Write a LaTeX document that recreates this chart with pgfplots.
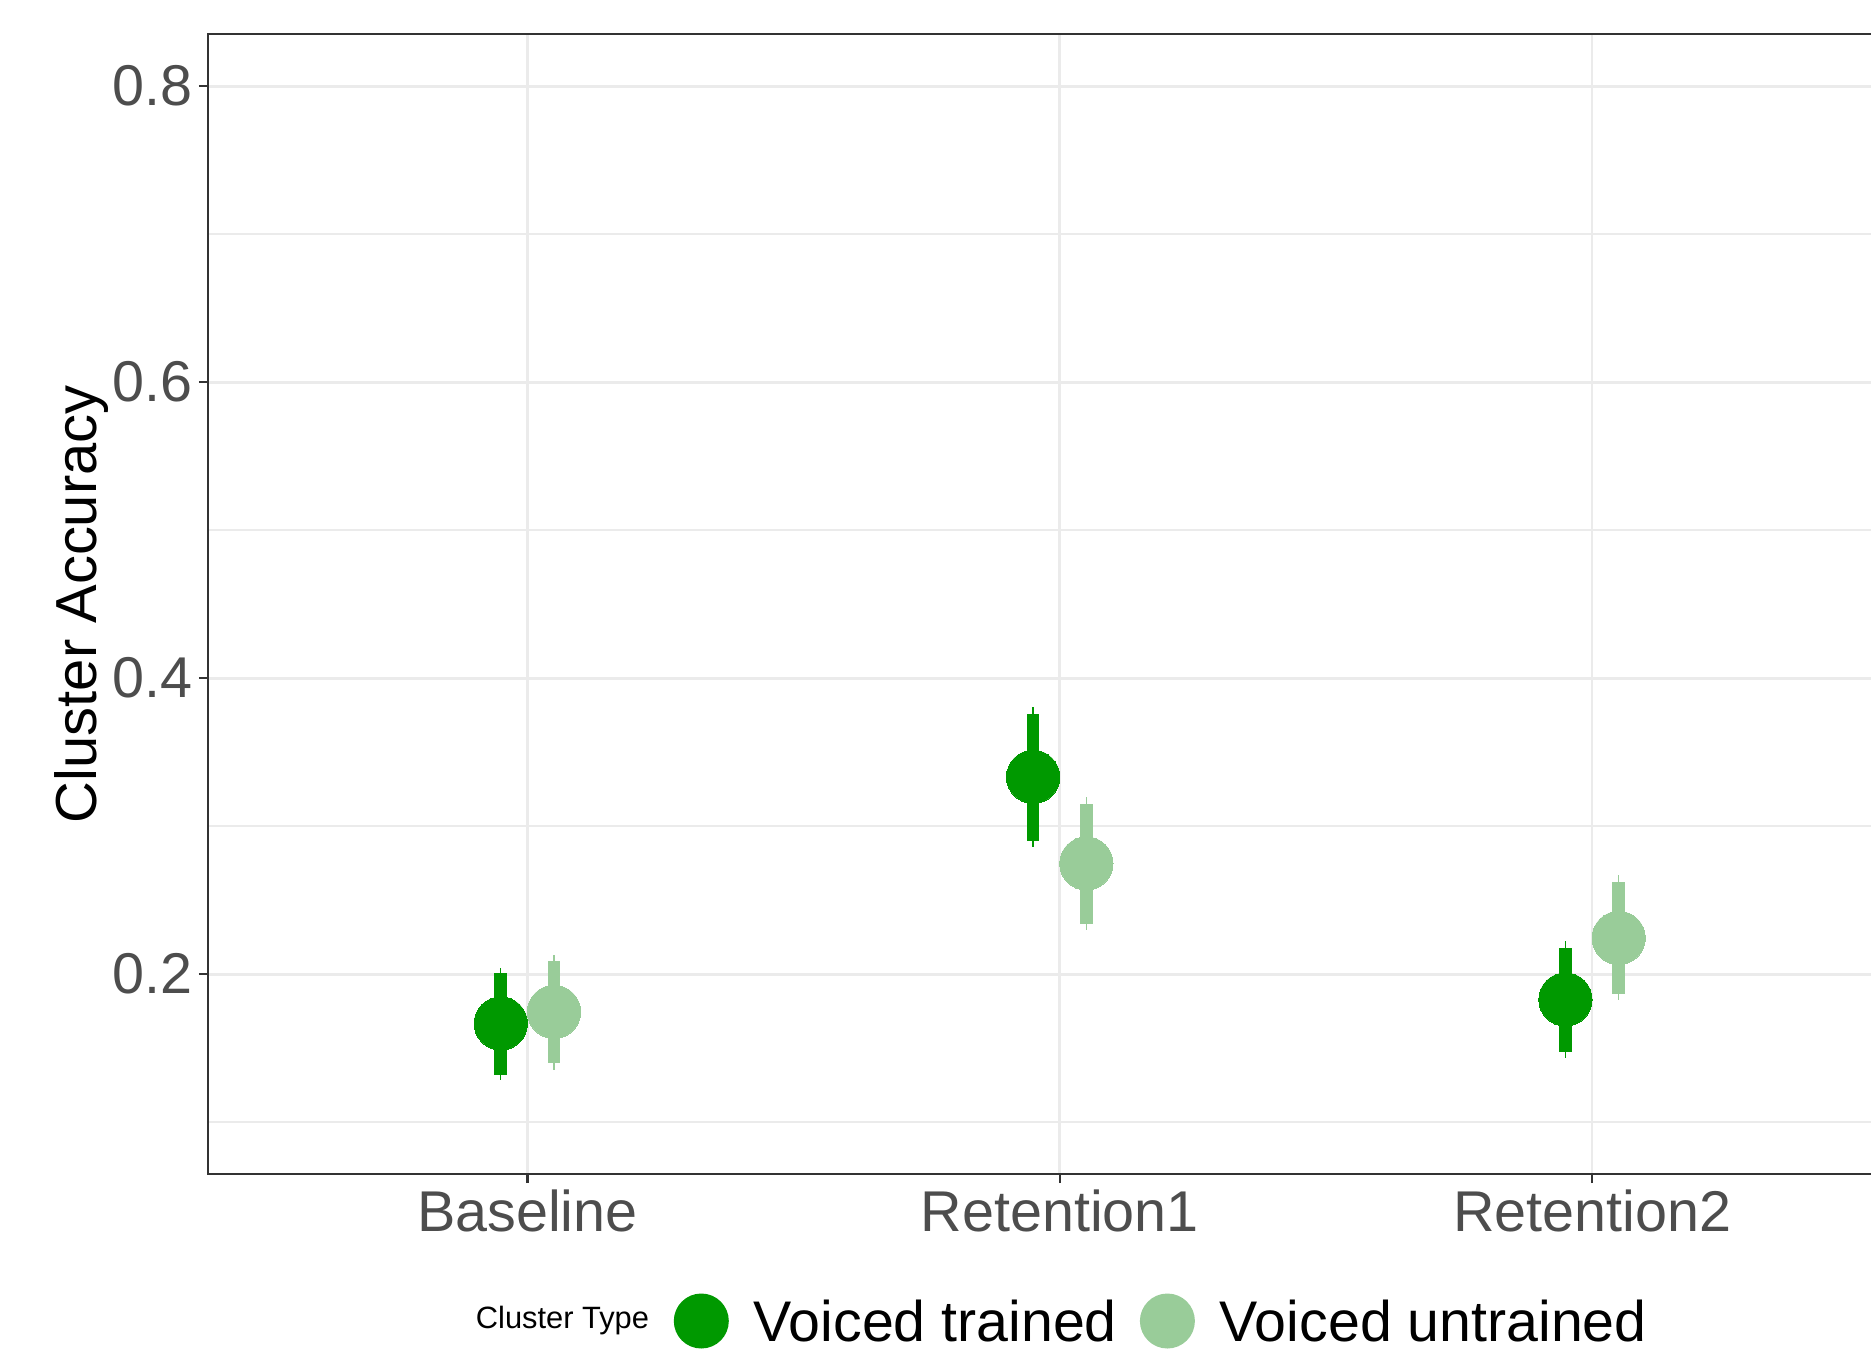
\documentclass[border=0pt]{standalone}
\usepackage{fontspec}
\setmainfont{Liberation Sans}
\usepackage{pgfplots}
\usepackage{pgfplotstable}
\pgfplotsset{compat=1.18}
\definecolor{trained}{HTML}{009900}
\definecolor{untrained}{HTML}{99CC99}
\definecolor{gridc}{HTML}{EBEBEB}
\definecolor{framec}{HTML}{333333}
\definecolor{tickc}{HTML}{4D4D4D}

% x, center, thick+ , thick-, thin+, thin-
\pgfplotstableread{
x y tp tm np nm
0.95 0.1667 0.0338 0.0349 0.0376 0.0383
1.95 0.3333 0.0428 0.0434 0.0469 0.0477
2.95 0.1829 0.0351 0.0354 0.0394 0.0392
}\trainedtab
\pgfplotstableread{
x y tp tm np nm
1.05 0.1745 0.0345 0.0348 0.0388 0.0389
2.05 0.2748 0.0405 0.0412 0.0446 0.0451
3.05 0.2245 0.0379 0.0382 0.0424 0.0421
}\untrainedtab

\begin{document}
\begin{tikzpicture}
\begin{axis}[
  at={(0,0)}, anchor=south west,
  scale only axis, width=399.12bp, height=273.53bp,
  xmin=0.4, xmax=3.524, ymin=0.065, ymax=0.835,
  xtick={1,2,3}, xticklabels={Baseline,Retention1,Retention2},
  ytick={0.2,0.4,0.6,0.8},
  minor ytick={0.1,0.3,0.5,0.7},
  yticklabels={0.2,0.4,0.6,0.8},
  xtick pos=bottom, ytick pos=left,
  tick align=outside,
  major tick length=2.16bp, minor tick length=0pt,
  tick style={draw=framec, line width=0.53bp},
  xmajorgrids, ymajorgrids, yminorgrids,
  major grid style={draw=gridc, line width=0.67bp},
  minor grid style={draw=gridc, line width=0.34bp},
  axis line style={draw=none},
  /pgf/number format/assume math mode=true,
  ticklabel style={font=\fontsize{13.8bp}{16bp}\selectfont, text=tickc, inner sep=0pt},
  xticklabel style={anchor=north, yshift=-1.45bp},
  yticklabel style={anchor=east, xshift=-1.4bp},
  every axis y label/.style={at={(axis description cs:0,0.5)}, xshift=-36.96bp, rotate=90, anchor=north, inner sep=0pt, font=\fontsize{13.9bp}{16bp}\selectfont},
  ylabel={Cluster Accuracy},
  legend columns=2,
  legend style={draw=none, fill=none, at={(0.2796,-0.129)}, anchor=west,
    inner sep=0pt, nodes={inner sep=0pt, text depth=0pt},
    font=\fontsize{13.75bp}{16bp}\selectfont,
    /tikz/every odd column/.append style={column sep=6bp},
    /tikz/every even column/.append style={column sep=5.52bp}},
  clip=false,
  after end axis/.code={
    \draw[framec, line width=0.53bp, line join=miter] (rel axis cs:1,1) -- (rel axis cs:0,1) -- (rel axis cs:0,0) -- (rel axis cs:1,0);
    \node[anchor=west, inner sep=0pt, font=\fontsize{7.4bp}{9bp}\selectfont] at (axis description cs:0.1606,-0.129) {Cluster Type};
  },
]
% thin intervals
\addplot[draw=none, forget plot, error bars/.cd, y dir=both, y explicit, error mark=none,
  error bar style={draw=trained, line width=0.3bp}]
  table[x=x, y=y, y error plus=np, y error minus=nm] {\trainedtab};
\addplot[draw=none, forget plot, error bars/.cd, y dir=both, y explicit, error mark=none,
  error bar style={draw=untrained, line width=0.3bp}]
  table[x=x, y=y, y error plus=np, y error minus=nm] {\untrainedtab};
% thick intervals
\addplot[draw=none, forget plot, error bars/.cd, y dir=both, y explicit, error mark=none,
  error bar style={draw=trained, line width=3.05bp}]
  table[x=x, y=y, y error plus=tp, y error minus=tm] {\trainedtab};
\addplot[draw=none, forget plot, error bars/.cd, y dir=both, y explicit, error mark=none,
  error bar style={draw=untrained, line width=3.05bp}]
  table[x=x, y=y, y error plus=tp, y error minus=tm] {\untrainedtab};
% points
\addplot[only marks, color=trained, mark=*, mark size=6.4bp, mark options={solid, draw=trained, fill=trained, line width=0pt}, forget plot]
  table[x=x, y=y] {\trainedtab};
\addplot[only marks, color=untrained, mark=*, mark size=6.4bp, mark options={solid, draw=untrained, fill=untrained, line width=0pt}, forget plot]
  table[x=x, y=y] {\untrainedtab};
\addlegendimage{legend image code/.code={\fill[trained] (6.4bp,0) circle (6.4bp);}}
\addlegendentry{Voiced trained}
\addlegendimage{legend image code/.code={\fill[untrained] (6.4bp,0) circle (6.4bp);}}
\addlegendentry{Voiced untrained}
\end{axis}
\pgfresetboundingbox
\path[use as bounding box] (-49.92bp,-42.48bp) rectangle (399.12bp,281.76bp);
\end{tikzpicture}
\end{document}
